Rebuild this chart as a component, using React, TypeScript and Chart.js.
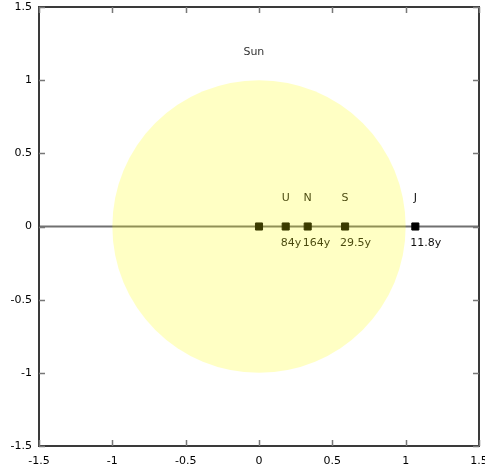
import React, { useEffect, useRef } from "react";
import { Chart, registerables } from "chart.js";

Chart.register(...registerables);

const axisMin = -1.5;
const axisMax = 1.5;
const tickStep = 0.5;
const tickValues = [-1.5, -1, -0.5, 0, 0.5, 1, 1.5];

const bodyX = [0, 0.182, 0.332, 0.587, 1.066];
const bodyY = [0, 0, 0, 0, 0];
const bodyNames = ["", "U", "N", "S", "J"];
const bodyPeriods = ["", "84y", "164y", "29.5y", "11.8y"];

const sunRadius = 1;
const sunLabel = "Sun";
const sunLabelX = -0.035;
const sunLabelY = 1.19;

const FONT = "DejaVu Sans";

const overlayPlugin = {
  id: "overlay",
  beforeDatasetsDraw(chart: any) {
    const { ctx, chartArea, scales } = chart;
    const y0 = scales.y.getPixelForValue(0);
    ctx.save();
    ctx.strokeStyle = "#707070";
    ctx.lineWidth = 2;
    ctx.beginPath();
    ctx.moveTo(chartArea.left, y0);
    ctx.lineTo(chartArea.right, y0);
    ctx.stroke();
    ctx.restore();
  },
  afterDatasetsDraw(chart: any) {
    const { ctx, chartArea, scales } = chart;
    const xs = scales.x;
    const ys = scales.y;
    ctx.save();
    // labels
    ctx.font = `11px ${FONT}`;
    ctx.fillStyle = "#111";
    bodyX.forEach((x, i) => {
      const px = xs.getPixelForValue(x);
      const py = ys.getPixelForValue(bodyY[i]);
      if (bodyNames[i]) {
        ctx.textAlign = "center";
        ctx.textBaseline = "middle";
        ctx.fillText(bodyNames[i], px, py - 28);
      }
      if (bodyPeriods[i]) {
        ctx.textAlign = "left";
        ctx.textBaseline = "middle";
        ctx.fillText(bodyPeriods[i], px - 5, py + 17);
      }
    });
    ctx.fillStyle = "#333";
    ctx.textAlign = "center";
    ctx.textBaseline = "middle";
    ctx.fillText(sunLabel, xs.getPixelForValue(sunLabelX), ys.getPixelForValue(sunLabelY));

    // sun disc
    const cx = xs.getPixelForValue(0);
    const cy = ys.getPixelForValue(0);
    const rx = xs.getPixelForValue(sunRadius) - cx;
    const ry = cy - ys.getPixelForValue(sunRadius);
    ctx.fillStyle = "rgba(255,255,0,0.23)";
    ctx.beginPath();
    ctx.ellipse(cx, cy, rx, ry, 0, 0, Math.PI * 2);
    ctx.fill();

    // frame
    ctx.strokeStyle = "#3a3a3a";
    ctx.lineWidth = 2;
    ctx.strokeRect(chartArea.left, chartArea.top, chartArea.right - chartArea.left, chartArea.bottom - chartArea.top);

    // inward ticks, mirrored
    ctx.strokeStyle = "#777";
    ctx.lineWidth = 1.5;
    const tl = 6;
    tickValues.forEach((v) => {
      const px = Math.round(xs.getPixelForValue(v)) + 0.5;
      ctx.beginPath();
      ctx.moveTo(px, chartArea.bottom);
      ctx.lineTo(px, chartArea.bottom - tl);
      ctx.moveTo(px, chartArea.top);
      ctx.lineTo(px, chartArea.top + tl);
      ctx.stroke();
      const py = Math.round(ys.getPixelForValue(v)) + 0.5;
      ctx.beginPath();
      ctx.moveTo(chartArea.left, py);
      ctx.lineTo(chartArea.left + tl, py);
      ctx.moveTo(chartArea.right, py);
      ctx.lineTo(chartArea.right - tl, py);
      ctx.stroke();
    });
    ctx.restore();
  },
};

export default function App() {
  const canvasRef = useRef<HTMLCanvasElement | null>(null);

  useEffect(() => {
    if (!canvasRef.current) return;
    const chart = new Chart(canvasRef.current, {
      type: "scatter",
      data: {
        datasets: [
          {
            data: bodyX.map((x, i) => ({ x, y: bodyY[i] })),
            pointStyle: "rect",
            pointRadius: 5,
            pointBackgroundColor: "#000",
            pointBorderColor: "#000",
            pointBorderWidth: 1,
            showLine: false,
          },
        ],
      },
      options: {
        animation: false,
        responsive: true,
        maintainAspectRatio: false,
        layout: { padding: { top: 7, right: 6, left: 0, bottom: 0 } },
        plugins: { legend: { display: false }, tooltip: { enabled: false } },
        scales: {
          x: {
            type: "linear",
            min: axisMin,
            max: axisMax,
            border: { display: false },
            grid: { display: false, drawTicks: false },
            ticks: {
              stepSize: tickStep,
              padding: 9,
              color: "#000",
              font: { family: FONT, size: 11 },
              maxRotation: 0,
              autoSkip: false,
              callback: (v: any) => String(v),
            },
            afterFit: (s: any) => {
              s.height = 28;
              s.paddingLeft = 0;
              s.paddingRight = 0;
            },
          },
          y: {
            type: "linear",
            min: axisMin,
            max: axisMax,
            border: { display: false },
            grid: { display: false, drawTicks: false },
            ticks: {
              stepSize: tickStep,
              padding: 7,
              color: "#000",
              font: { family: FONT, size: 11 },
              autoSkip: false,
              callback: (v: any) => String(v),
            },
            afterFit: (s: any) => {
              s.width = 39;
              s.paddingTop = 0;
              s.paddingBottom = 0;
            },
          },
        },
      },
      plugins: [overlayPlugin],
    });
    return () => chart.destroy();
  }, []);

  return (
    <div style={{ position: "fixed", left: 0, top: 0, width: 485, height: 474, background: "#fff" }}>
      <canvas ref={canvasRef} />
    </div>
  );
}
